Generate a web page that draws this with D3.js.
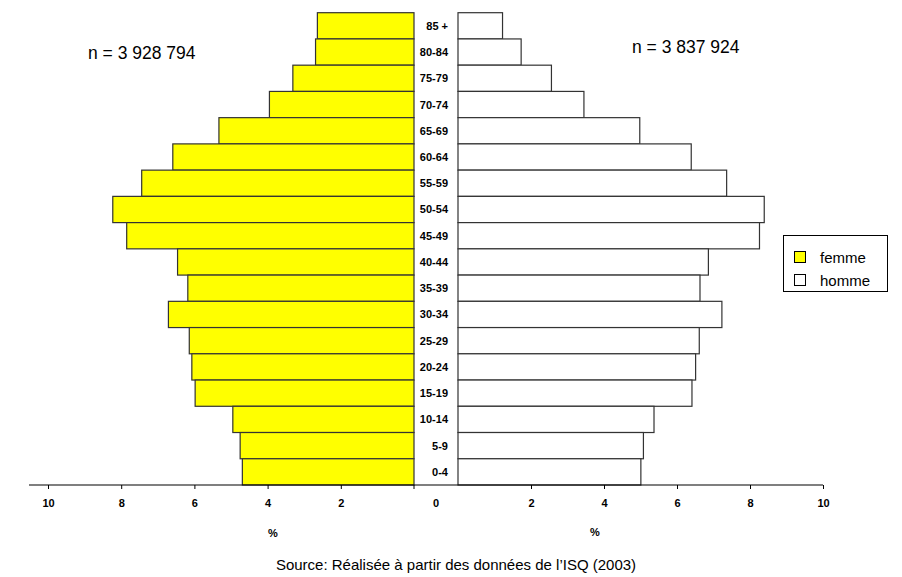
<!DOCTYPE html>
<html>
<head>
<meta charset="utf-8">
<script src="https://cdn.jsdelivr.net/npm/d3@7"></script>
<style>
  body { margin: 0; background: #fff; }
  text { font-family: "Liberation Sans", Arial, sans-serif; fill: #000; }
</style>
</head>
<body>
<script>
// age groups, top to bottom
var ages = ['85 +', '80-84', '75-79', '70-74', '65-69', '60-64', '55-59', '50-54', '45-49',
            '40-44', '35-39', '30-34', '25-29', '20-24', '15-19', '10-14', '5-9', '0-4'];
// % of population
var femme = [2.64, 2.69, 3.31, 3.95, 5.33, 6.59, 7.44, 8.23, 7.85,
             6.46, 6.18, 6.71, 6.14, 6.07, 5.98, 4.95, 4.75, 4.69];
var homme = [1.22, 1.73, 2.56, 3.45, 4.98, 6.39, 7.36, 8.39, 8.26,
             6.86, 6.63, 7.23, 6.61, 6.51, 6.41, 5.37, 5.08, 5.01];
var ticks = [0, 2, 4, 6, 8, 10];

var width = 902, height = 577;
var svg = d3.select('body').append('svg')
            .attr('width', width)
            .attr('height', height);

var xLeft = d3.scaleLinear().domain([0, 10]).range([414, 48]);
var xRight = d3.scaleLinear().domain([0, 10]).range([458, 823]);
var y = d3.scaleBand().domain(ages).range([12.7, 485]).padding(0);

// bars
svg.selectAll('rect.femme').data(femme)
   .enter().append('rect')
   .attr('class', 'femme')
   .attr('x', function(d) { return xLeft(d); })
   .attr('y', function(d, i) { return y(ages[i]); })
   .attr('width', function(d) { return xLeft(0) - xLeft(d); })
   .attr('height', y.bandwidth())
   .attr('fill', '#ffff00')
   .attr('stroke', '#333')
   .attr('stroke-width', 1.2);

svg.selectAll('rect.homme').data(homme)
   .enter().append('rect')
   .attr('class', 'homme')
   .attr('x', xRight(0))
   .attr('y', function(d, i) { return y(ages[i]); })
   .attr('width', function(d) { return xRight(d) - xRight(0); })
   .attr('height', y.bandwidth())
   .attr('fill', '#fff')
   .attr('stroke', '#333')
   .attr('stroke-width', 1.2);

// age labels
svg.selectAll('text.age').data(ages)
   .enter().append('text')
   .attr('class', 'age')
   .attr('x', 448)
   .attr('y', function(d) { return y(d) + y.bandwidth() / 2 + 4; })
   .attr('text-anchor', 'end')
   .style('font-size', '11px')
   .style('font-weight', 'bold')
   .text(function(d) { return d; });

// axes
var axisY = 485;
var gl = svg.append('g').attr('transform', 'translate(0,' + axisY + ')')
            .call(d3.axisBottom(xLeft).tickValues(ticks.slice(1)).tickSize(4).tickFormat(d3.format('d')));
var gr = svg.append('g').attr('transform', 'translate(0,' + axisY + ')')
            .call(d3.axisBottom(xRight).tickValues(ticks.slice(1)).tickSize(4).tickFormat(d3.format('d')));
svg.selectAll('.domain').remove();
svg.selectAll('.tick line').attr('stroke', '#000');
svg.selectAll('.tick text')
   .attr('y', 14)
   .style('font-size', '11px')
   .style('font-weight', 'bold')
   .style('font-family', '"Liberation Sans", Arial, sans-serif');

svg.append('line')
   .attr('x1', 29).attr('x2', xRight(10))
   .attr('y1', axisY).attr('y2', axisY)
   .attr('stroke', '#000').attr('stroke-width', 1.2);
svg.append('line')
   .attr('x1', xLeft(0)).attr('x2', xLeft(0))
   .attr('y1', axisY).attr('y2', axisY + 4)
   .attr('stroke', '#000');
svg.append('text')
   .attr('x', (xLeft(0) + xRight(0)) / 2)
   .attr('y', 507)
   .attr('text-anchor', 'middle')
   .style('font-size', '11px')
   .style('font-weight', 'bold')
   .text('0');

// % titles
svg.append('text').attr('x', 273).attr('y', 537).attr('text-anchor', 'middle')
   .style('font-size', '11px').style('font-weight', 'bold').text('%');
svg.append('text').attr('x', 595).attr('y', 536).attr('text-anchor', 'middle')
   .style('font-size', '11px').style('font-weight', 'bold').text('%');

// totals
svg.append('text').attr('x', 88).attr('y', 59)
   .style('font-size', '17.5px').text('n = 3 928 794');
svg.append('text').attr('x', 632).attr('y', 53)
   .style('font-size', '17.5px').text('n = 3 837 924');

// legend
var legend = svg.append('g');
legend.append('rect')
      .attr('x', 783.5).attr('y', 235.5).attr('width', 104).attr('height', 56)
      .attr('fill', '#fff').attr('stroke', '#000');
var legendItems = [{label: 'femme', fill: '#ffff00'}, {label: 'homme', fill: '#fff'}];
legend.selectAll('g.item').data(legendItems)
      .enter().append('g')
      .attr('class', 'item')
      .each(function(d, i) {
        var g = d3.select(this);
        g.append('rect')
         .attr('x', 794.5).attr('y', 251.5 + i * 23).attr('width', 11).attr('height', 11)
         .attr('fill', d.fill).attr('stroke', '#000');
        g.append('text')
         .attr('x', 820).attr('y', 263 + i * 23)
         .style('font-size', '15px').text(d.label);
      });

// source
svg.append('text').attr('x', 456).attr('y', 570).attr('text-anchor', 'middle')
   .style('font-size', '15px').text('Source: Réalisée à partir des données de l’ISQ (2003)');
</script>
</body>
</html>
